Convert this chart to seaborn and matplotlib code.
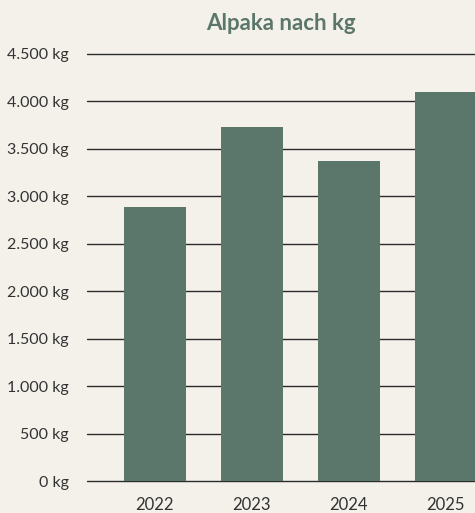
import matplotlib
matplotlib.use("Agg")
import matplotlib.pyplot as plt
import seaborn as sns
import pandas as pd
from matplotlib.ticker import FuncFormatter, MultipleLocator

years = ["2022", "2023", "2024", "2025"]
kg = [2890, 3730, 3370, 4100]
title = "Alpaka nach kg"

BG = "#f4f1ea"
BAR = "#5b766b"
TXT = "#333333"

sns.set_theme(style="white")
plt.rcParams["font.family"] = ["Lato", "DejaVu Sans"]

df = pd.DataFrame({"Jahr": years, "kg": kg})

fig = plt.figure(figsize=(4.75, 5.13), dpi=100, facecolor=BG)
ax = fig.add_axes([87 / 475, (513 - 481.3) / 513, 1 - 87 / 475, (481.3 - 53.8) / 513])
ax.set_facecolor(BG)

sns.barplot(data=df, x="Jahr", y="kg", color=BAR, width=0.64, saturation=1,
            linewidth=0, edgecolor=BAR, ax=ax, zorder=3)

ax.set_ylim(0, 4500)
ax.set_xlim(-0.7, 3.3)
ax.yaxis.set_major_locator(MultipleLocator(500))
ax.yaxis.set_major_formatter(FuncFormatter(lambda v, p: f"{int(v):,} kg".replace(",", ".")))
ax.grid(False)
for t in range(0, 4501, 500):
    ax.axhline(t, color="#2b2b2b", linewidth=1.0, zorder=1, clip_on=False)
for s in ax.spines.values():
    s.set_visible(False)
ax.tick_params(axis="y", length=0, pad=13, labelsize=11.5, labelcolor=TXT)
ax.tick_params(axis="x", length=0, pad=11, labelsize=12, labelcolor=TXT)
ax.set_xlabel("")
ax.set_ylabel("")
ax.set_title(title, fontsize=16, fontweight="bold", color=BAR, pad=17)

fig.savefig("out.png", dpi=100, facecolor=BG)
